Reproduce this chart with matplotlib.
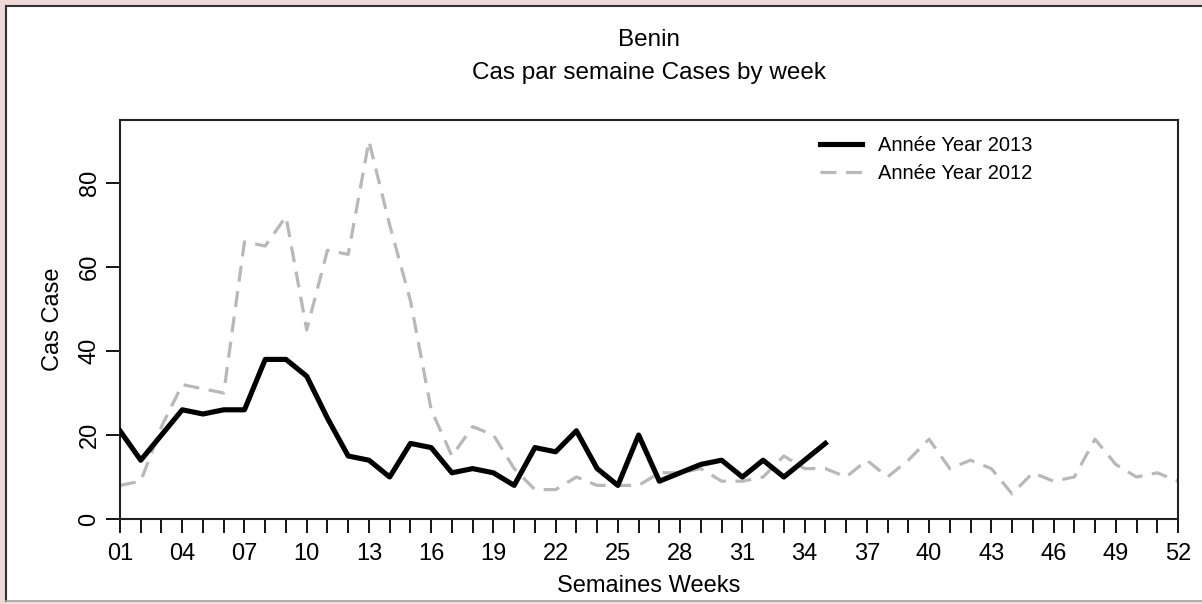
import matplotlib.pyplot as plt
from matplotlib.lines import Line2D
from matplotlib.patches import Rectangle
import numpy as np

plt.rcParams['font.family'] = ['Liberation Sans', 'DejaVu Sans']

weeks = np.arange(1, 53)
cases_2013 = [21, 14, 20, 26, 25, 26, 26, 38, 38, 34, 24, 15, 14, 10, 18, 17,
              11, 12, 11, 8, 17, 16, 21, 12, 8, 20, 9, 11, 13, 14, 10, 14,
              10, 14, 18]
cases_2012 = [8, 9, 22, 32, 31, 30, 66, 65, 72, 45, 64, 63, 90, 70, 52, 26,
              15, 22, 20, 12, 7, 7, 10, 8, 8, 8, 11, 11, 12, 9, 9, 10,
              15, 12, 12, 10, 14, 10, 14, 19, 12, 14, 12, 6, 11, 9, 10, 19,
              13, 10, 11, 9]
week_labels = ["%02d" % w if (w - 1) % 3 == 0 else "" for w in weeks]

W, H = 1202, 604
fig = plt.figure(figsize=(W / 100, H / 100), dpi=100, facecolor="#efd9d9")

# white panel with a thin frame, like the source image
fig.add_artist(Rectangle((6 / W, 3 / H), 1, 1 - 9 / H, transform=fig.transFigure,
                         facecolor="white", edgecolor="none", zorder=-10))
fig.add_artist(Line2D([6 / W, 1], [1 - 6 / H, 1 - 6 / H], transform=fig.transFigure,
                      color="#333333", lw=1.5, zorder=-5))
fig.add_artist(Line2D([6 / W, 6 / W], [3 / H, 1 - 6 / H], transform=fig.transFigure,
                      color="#333333", lw=1.5, zorder=-5))
fig.add_artist(Line2D([6 / W, 1], [3 / H, 3 / H], transform=fig.transFigure,
                      color="#a0a0a0", lw=1.2, zorder=-5))

ax = fig.add_axes([120 / W, 1 - 519 / H, (1178 - 120) / W, (519 - 120) / H])
ax.set_facecolor("white")

ax.plot(weeks[:len(cases_2013)], cases_2013, color="black", lw=3.7,
        label="Année Year 2013", zorder=3)
ax.plot(weeks, cases_2012, color="#b8b8b8", lw=2.3, dashes=(5, 3),
        label="Année Year 2012", zorder=2)

ax.set_xlim(1, 52)
ax.set_ylim(0, 95)
ax.set_xticks(weeks)
ax.set_xticklabels(week_labels)
ax.set_yticks([0, 20, 40, 60, 80])
ax.set_yticklabels(["0", "20", "40", "60", "80"], rotation=90, va="center")

ax.tick_params(axis="x", direction="out", length=10, width=1.3, pad=7,
               labelsize=17, colors="black")
ax.tick_params(axis="y", direction="out", length=10, width=1.3, pad=4,
               labelsize=17, colors="black")
for s in ax.spines.values():
    s.set_linewidth(1.5)
    s.set_color("#222222")

ax.set_xlabel("Semaines Weeks", fontsize=17)
ax.xaxis.set_label_coords(0.5, -(586 - 519) / (519 - 120))
ax.xaxis.label.set_va("center")
ax.set_ylabel("Cas Case", fontsize=17)
ax.yaxis.set_label_coords(-(120 - 53) / (1178 - 120), 0.5)
ax.yaxis.label.set_va("center")

fig.text(649 / W, 1 - 40 / H, "Benin", ha="center", va="center", fontsize=17.5)
fig.text(649 / W, 1 - 73 / H, "Cas par semaine Cases by week", ha="center",
         va="center", fontsize=17.5)

ax.legend(loc="upper left", bbox_to_anchor=(820 / W, 1 - 136 / H),
          bbox_transform=fig.transFigure, frameon=False, fontsize=14.5,
          handlelength=2.1, handletextpad=0.8, labelspacing=0.45,
          borderpad=0, borderaxespad=0)

fig.savefig("out.png", dpi=100, facecolor=fig.get_facecolor())
